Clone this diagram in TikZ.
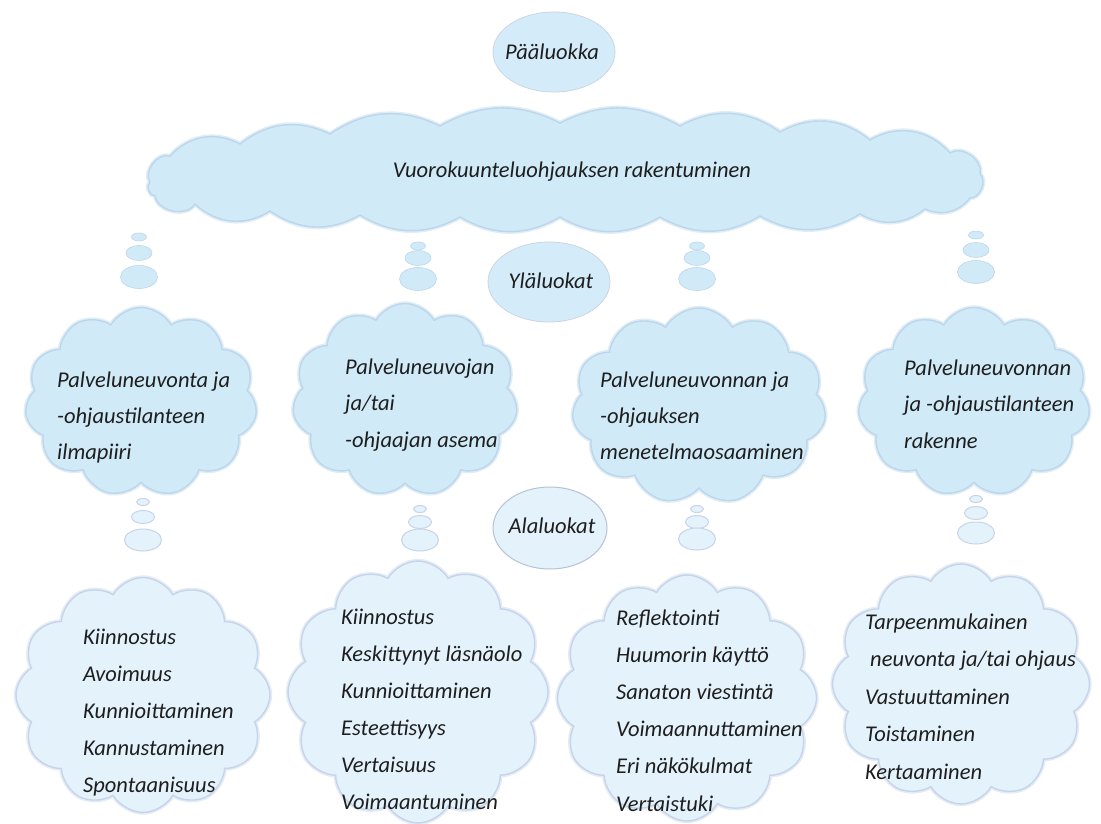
\documentclass[tikz,border=0pt]{standalone}
\usepackage{fontspec}
\setmainfont{Carlito}
\usetikzlibrary{shapes.symbols,shapes.geometric}
\definecolor{cloudfill}{RGB}{208,234,248}
\definecolor{cloudline}{RGB}{188,214,236}
\definecolor{lowfill}{RGB}{228,242,251}
\definecolor{lowline}{RGB}{198,212,234}
\definecolor{ellfill}{RGB}{212,236,250}
\definecolor{ellline}{RGB}{182,194,214}
\definecolor{txt}{RGB}{30,30,30}
\tikzset{
  glow/.style={preaction={draw=#1!45, line width=4.5pt}},
  bigcloud/.style={cloud, cloud puffs=#1, cloud puff arc=120, draw=cloudline, line width=1.4pt, fill=cloudfill, inner sep=0pt, glow=cloudline},
  lowcloud/.style={cloud, cloud puffs=#1, cloud puff arc=120, draw=lowline, line width=1.4pt, fill=lowfill, inner sep=0pt, glow=lowline},
  topcloud/.style={draw=cloudline, line width=1.4pt, fill=cloudfill, glow=cloudline},
  catell/.style={ellipse, draw=ellline!70, line width=0.8pt, fill=ellfill, inner sep=0pt},
  lowell/.style={ellipse, draw=ellline, line width=1pt, fill=lowfill, inner sep=0pt},
  dotb/.style={ellipse, fill=cloudfill, draw=cloudline, line width=0.6pt, inner sep=0pt},
  dotl/.style={ellipse, fill=lowfill, draw=lowline, line width=1pt, inner sep=0pt},
  lbl/.style={font=\fontsize{22.5}{26}\selectfont\itshape, text=txt, inner sep=0pt, anchor=base west},
  ctr/.style={font=\fontsize{22.5}{26}\selectfont\itshape, text=txt, inner sep=0pt},
}
\begin{document}
\begin{tikzpicture}[x=1pt,y=-1pt]
\path[use as bounding box, fill=white] (0,0) rectangle (1101,824);

% top level
\node[catell, minimum width=122, minimum height=80] (pl) at (554,52) {};
\node[ctr] (plt) at (552,52) {Pääluokka};

\coordinate (main) at (563,172);
\path[topcloud] (150,182) to[bend left=70] (170,156) to[bend left=38] (240,144)
  to[bend left=32] (330,134) to[bend left=30] (440,126) to[bend left=28] (560,123)
  to[bend left=28] (680,126) to[bend left=32] (780,132) to[bend left=34] (870,140)
  to[bend left=40] (950,153) to[bend left=70] (980,174) to[bend left=70] (970,198)
  to[bend left=38] (925,209) to[bend left=34] (860,214) to[bend left=30] (760,216)
  to[bend left=30] (660,217) to[bend left=30] (560,217) to[bend left=30] (460,217)
  to[bend left=30] (360,215) to[bend left=32] (270,211) to[bend left=38] (195,204)
  to[bend left=70] (155,196) to[bend left=70] cycle;
\node[ctr] (maint) at (572,172) {Vuorokuunteluohjauksen rakentuminen};

% thought bubbles under main cloud
\foreach \n/\x/\ya/\yb/\yc in {a/139/237/253/277, b/418/246/258/279, c/697/246/258/279, d/976/235/250/272}{
  \node[dotb, minimum width=15, minimum height=8] (s\n1) at (\x,\ya) {};
  \node[dotb, minimum width=26, minimum height=15] (s\n2) at (\x,\yb) {};
  \node[dotb, minimum width=37, minimum height=23] (s\n3) at (\x,\yc) {};
}

\node[catell, minimum width=122, minimum height=80] (yl) at (549,282) {};
\node[ctr] (ylt) at (551,281) {Yläluokat};

% upper categories
\node[bigcloud=11, minimum width=232, minimum height=189] (c1) at (141,402) {};
\node[bigcloud=11, minimum width=225, minimum height=193] (c2) at (405,400) {};
\node[bigcloud=11, minimum width=254, minimum height=196] (c3) at (699,406) {};
\node[bigcloud=11, minimum width=232, minimum height=189] (c4) at (974,402) {};

\foreach \t [count=\i] in {Palveluneuvonta ja,-ohjaustilanteen,ilmapiiri}
  \node[lbl] (c1l\i) at (57,{387+(\i-1)*36}) {\t};
\foreach \t [count=\i] in {Palveluneuvojan,ja/tai,-ohjaajan asema}
  \node[lbl] (c2l\i) at (345,{374+(\i-1)*36.5}) {\t};
\foreach \t [count=\i] in {Palveluneuvonnan ja,-ohjauksen,menetelmaosaaminen}
  \node[lbl] (c3l\i) at (600,{387+(\i-1)*36}) {\t};
\foreach \t [count=\i] in {Palveluneuvonnan,ja -ohjaustilanteen,rakenne}
  \node[lbl] (c4l\i) at (904,{375+(\i-1)*36.5}) {\t};

% bubbles under upper categories
\foreach \n/\x/\ya/\yb/\yc in {e/143/502/517/540, f/420/509/522/540, g/697/509/522/539, h/976/499/513/533}{
  \node[dotl, minimum width=13, minimum height=7] (s\n1) at (\x,\ya) {};
  \node[dotl, minimum width=23, minimum height=13] (s\n2) at (\x,\yb) {};
  \node[dotl, minimum width=37, minimum height=22] (s\n3) at (\x,\yc) {};
}

\node[lowell, minimum width=114, minimum height=82] (al) at (550,528) {};
\node[ctr] (alt) at (552,526) {Alaluokat};

% sub categories
\node[lowcloud=12, minimum width=254, minimum height=235] (b1) at (143,695) {};
\node[lowcloud=12, minimum width=260, minimum height=262] (b2) at (418,692) {};
\node[lowcloud=12, minimum width=259, minimum height=246] (b3) at (687,698) {};
\node[lowcloud=12, minimum width=257, minimum height=240] (b4) at (961,684) {};

\foreach \t [count=\i] in {Kiinnostus,Avoimuus,Kunnioittaminen,Kannustaminen,Spontaanisuus}
  \node[lbl] (b1l\i) at (83,{644+(\i-1)*37.2}) {\t};
\foreach \t [count=\i] in {Kiinnostus,Keskittynyt läsnäolo,Kunnioittaminen,Esteettisyys,Vertaisuus,Voimaantuminen}
  \node[lbl] (b2l\i) at (341,{624+(\i-1)*37}) {\t};
\foreach \t [count=\i] in {Reflektointi,Huumorin käyttö,Sanaton viestintä,Voimaannuttaminen,Eri näkökulmat,Vertaistuki}
  \node[lbl] (b3l\i) at (616,{625+(\i-1)*37.2}) {\t};
\node[lbl] (b4l1) at (865,629) {Tarpeenmukainen};
\node[lbl] (b4l2) at (870,666.5) {neuvonta ja/tai ohjaus};
\foreach \t [count=\i from 3] in {Vastuuttaminen,Toistaminen,Kertaaminen}
  \node[lbl] (b4l\i) at (865,{629+(\i-1)*37.5}) {\t};
\end{tikzpicture}
\end{document}
